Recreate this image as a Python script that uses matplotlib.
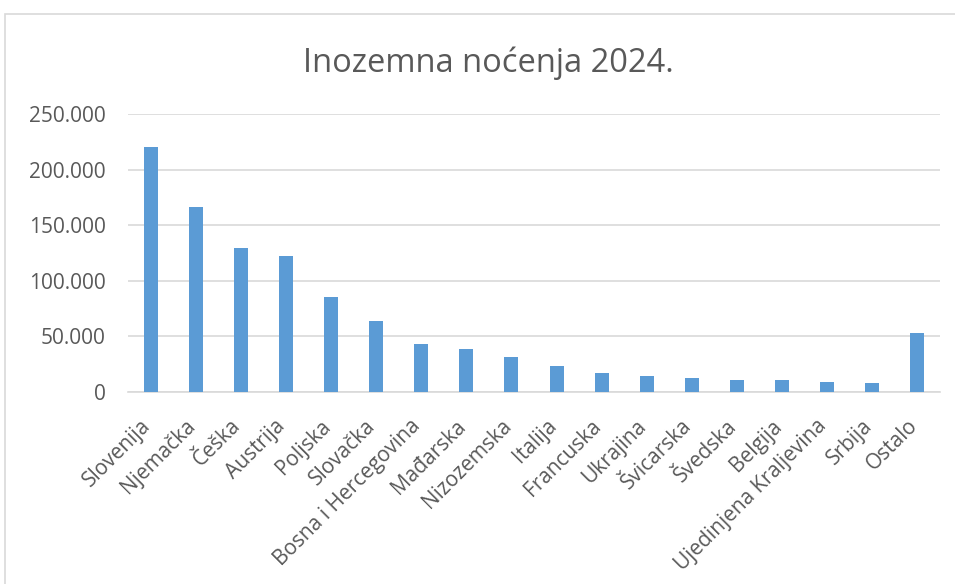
import matplotlib.pyplot as plt
from matplotlib.patches import Rectangle
from matplotlib.ticker import FuncFormatter
from matplotlib.transforms import ScaledTranslation

# Podaci: inozemna noćenja po zemljama (2024.)
zemlje = ['Slovenija', 'Njemačka', 'Češka', 'Austrija', 'Poljska', 'Slovačka',
          'Bosna i Hercegovina', 'Mađarska', 'Nizozemska', 'Italija', 'Francuska',
          'Ukrajina', 'Švicarska', 'Švedska', 'Belgija', 'Ujedinjena Kraljevina',
          'Srbija', 'Ostalo']
nocenja = [220000, 166000, 129400, 122200, 85500, 63600, 43500, 38400, 31800,
           23100, 16800, 14100, 12300, 10500, 10500, 9000, 8100, 52800]
y_ticks = [0, 50000, 100000, 150000, 200000, 250000]

plt.rcParams['font.family'] = ['Open Sans', 'DejaVu Sans']
siva = '#595959'

fig = plt.figure(figsize=(9.55, 5.84), dpi=100)
ax = fig.add_axes([128/955, 1-392/584, 812/955, 278/584])

# okvir grafikona
fig.patches.append(Rectangle((5/955, -0.1), 1.2, 1.1 - 14/584, transform=fig.transFigure,
                             fill=False, edgecolor='#d9d9d9', linewidth=1.2))

x = range(len(zemlje))
ax.bar(x, nocenja, width=0.31, color='#5b9bd5', zorder=3)

ax.set_xlim(-0.5, len(zemlje) - 0.5)
ax.set_ylim(0, 250000)
ax.set_yticks(y_ticks)
ax.yaxis.set_major_formatter(FuncFormatter(lambda v, p: f'{int(v):,}'.replace(',', '.')))
ax.grid(axis='y', color='#d9d9d9', linewidth=1.2, zorder=0)

for s in ['top', 'right', 'left']:
    ax.spines[s].set_visible(False)
ax.spines['bottom'].set_color('#d9d9d9')
ax.spines['bottom'].set_linewidth(1.2)

ax.set_xticks(list(x))
ax.set_xticklabels(zemlje, rotation=45, ha='right', va='top')
ax.tick_params(axis='x', length=0, pad=17, labelsize=15, labelcolor=siva)
ax.tick_params(axis='y', length=0, pad=16, labelsize=15, labelcolor=siva)

# malo pomakni natpise udesno, kao u Excelu
pomak = ScaledTranslation(4/100, 0, fig.dpi_scale_trans)
for lbl in ax.get_xticklabels():
    lbl.set_transform(lbl.get_transform() + pomak)

fig.text(488/955, 1-72/584, 'Inozemna noćenja 2024.', ha='center', va='baseline',
         fontsize=23.5, color=siva)

fig.savefig('out.png', dpi=100)
